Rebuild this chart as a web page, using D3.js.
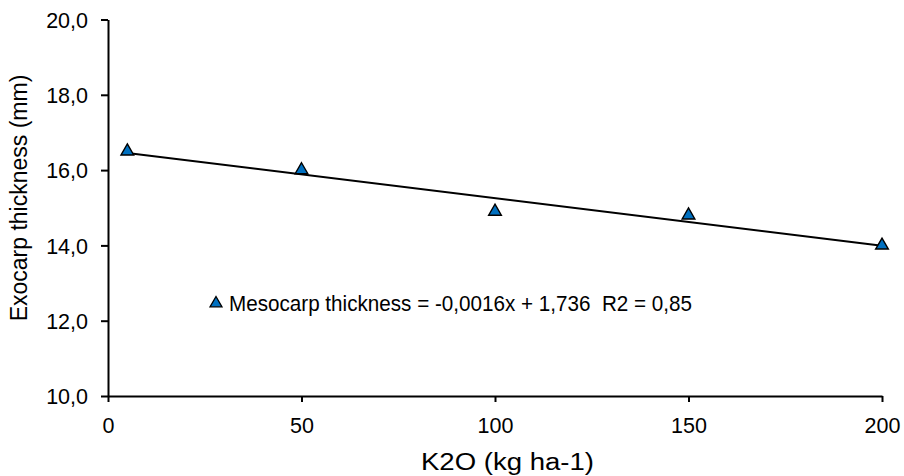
<!DOCTYPE html>
<html><head><meta charset="utf-8">
<script src="https://cdn.jsdelivr.net/npm/d3@7"></script>
<style>body{margin:0;background:#fff}svg{display:block}text{font-family:"Liberation Sans",Arial,sans-serif;fill:#000;white-space:pre}</style>
</head><body><div id="chart"></div>
<script>
const doses = [5, 50, 100, 150, 200];
const thickness = [16.5, 16.0, 14.9, 14.8, 14.0];
const xTicks = [0, 50, 100, 150, 200];
const yTicks = [10, 12, 14, 16, 18, 20];
const legendText = "Mesocarp thickness = -0,0016x + 1,736  R2 = 0,85";
const xTitle = "K2O (kg ha-1)";
const yTitle = "Exocarp thickness (mm)";

const W = 904, H = 476;
const m = {l: 108, r: 22, t: 19.5, b: 80};
const svg = d3.select("#chart").append("svg").attr("width", W).attr("height", H);
const x = d3.scaleLinear().domain([0, 200]).range([m.l, W - m.r]);
const y = d3.scaleLinear().domain([10, 20]).range([H - m.b, m.t]);
const fmt = d => d.toFixed(1).replace(".", ",");

const gx = svg.append("g").attr("transform", `translate(0,${y(10)})`)
  .call(d3.axisBottom(x).tickValues(xTicks).tickSizeInner(6).tickSizeOuter(0));
gx.selectAll(".tick text").attr("y", 37).attr("dy", 0);
const gy = svg.append("g").attr("transform", `translate(${x(0)},0)`)
  .call(d3.axisLeft(y).tickValues(yTicks).tickFormat(fmt).tickSizeInner(7).tickSizeOuter(0).tickPadding(13));
gy.selectAll(".tick text").attr("dy", "0.36em");
[gx, gy].forEach(g => {
  g.selectAll("path,line").attr("stroke", "#000").attr("stroke-width", 2);
  g.selectAll("text").attr("font-size", 21.5).attr("font-family", '"Liberation Sans",Arial,sans-serif');
});

// linear trend (least squares from the data)
const n = doses.length;
const mx = d3.mean(doses), my = d3.mean(thickness);
let sxy = 0, sxx = 0;
for (let i = 0; i < n; i++) { sxy += (doses[i]-mx)*(thickness[i]-my); sxx += (doses[i]-mx)**2; }
const slope = sxy / sxx, icpt = my - slope * mx;
const x0 = d3.min(doses), x1 = d3.max(doses);
svg.append("line").attr("x1", x(x0)).attr("y1", y(icpt + slope*x0))
  .attr("x2", x(x1)).attr("y2", y(icpt + slope*x1))
  .attr("stroke", "#000").attr("stroke-width", 2);

const tri = d3.symbol().type(d3.symbolTriangle).size(70);
svg.selectAll("path.pt").data(doses).join("path").attr("class", "pt")
  .attr("d", tri)
  .attr("transform", (d, i) => `translate(${x(d)},${y(thickness[i])})`)
  .attr("fill", "#0070C0").attr("stroke", "#000").attr("stroke-width", 1.4);

// legend
svg.append("path").attr("d", d3.symbol().type(d3.symbolTriangle).size(62))
  .attr("transform", `translate(216,${y(12.5) + 1.5})`)
  .attr("fill", "#0070C0").attr("stroke", "#000").attr("stroke-width", 1.3);
svg.append("text").attr("x", 229).attr("y", 311).attr("font-size", 21.5)
  .attr("textLength", 463).attr("lengthAdjust", "spacingAndGlyphs").text(legendText);

svg.append("text").attr("x", 507.5).attr("y", 470).attr("text-anchor", "middle").attr("font-size", 23.5)
  .attr("textLength", 173).attr("lengthAdjust", "spacingAndGlyphs").text(xTitle);
svg.append("text").attr("transform", `translate(27,198) rotate(-90)`)
  .attr("text-anchor", "middle").attr("font-size", 23).text(yTitle);
</script></body></html>
